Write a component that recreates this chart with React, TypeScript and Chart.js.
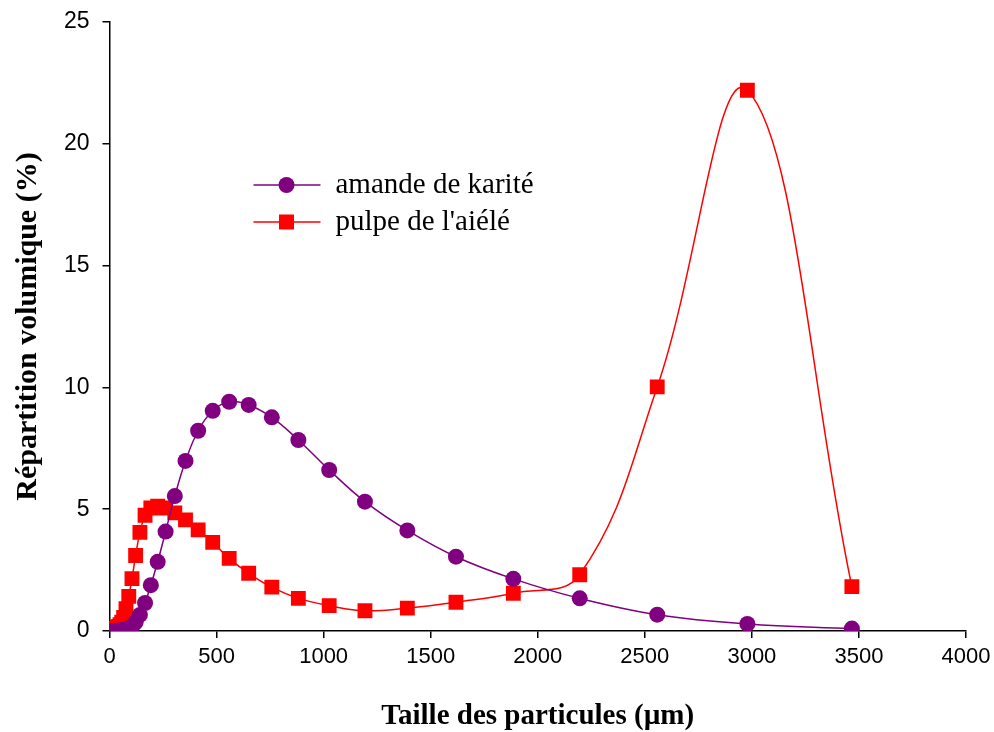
import React, { useEffect, useRef } from "react";
import { Chart, registerables } from "chart.js";

Chart.register(...registerables);

// Particle sizes (µm)
const sizes = [2, 4, 6, 9, 12, 16, 19, 22, 26, 31, 36, 42, 49, 57, 66, 77, 90, 105, 122, 142, 166, 193, 225, 262, 305, 355, 414, 482, 559, 650, 758, 882, 1026, 1193, 1391, 1618, 1886, 2196, 2558, 2979, 3467];

// amande de karité (%)
const karite = [0, 0, 0, 0, 0, 0, 0, 0, 0, 0.01, 0.01, 0.01, 0.02, 0.03, 0.04, 0.06, 0.1, 0.18, 0.36, 0.66, 1.15, 1.88, 2.84, 4.08, 5.54, 6.98, 8.22, 9.04, 9.41, 9.28, 8.77, 7.84, 6.61, 5.31, 4.13, 3.05, 2.14, 1.34, 0.67, 0.29, 0.1];

// pulpe de l'aiélé (%)
const aiele = [0.03, 0.04, 0.05, 0.05, 0.06, 0.07, 0.08, 0.09, 0.1, 0.12, 0.15, 0.19, 0.26, 0.36, 0.56, 0.92, 1.42, 2.15, 3.1, 4.05, 4.75, 5.05, 5.12, 5.05, 4.85, 4.56, 4.15, 3.64, 2.98, 2.37, 1.8, 1.34, 1.04, 0.83, 0.94, 1.18, 1.55, 2.31, 10.02, 22.2, 1.82];

const seriesLabels = ["amande de karité", "pulpe de l'aiélé"];
const seriesColors = ["#800080", "#FF0000"];
const xTicks = [0, 500, 1000, 1500, 2000, 2500, 3000, 3500, 4000];
const yTicks = [0, 5, 10, 15, 20, 25];
const xTitle = "Taille des particules (µm)";
const yTitle = "Répartition volumique (%)";

const legendPlugin = {
  id: "customLegend",
  afterDraw(chart: any) {
    const ctx = chart.ctx;
    const area = chart.chartArea;
    const baseX = area.left + 144;
    const baseY = area.top + 163;
    ctx.save();
    chart.data.datasets.forEach((ds: any, i: number) => {
      const y = baseY + i * 37;
      ctx.strokeStyle = ds.borderColor;
      ctx.lineWidth = 1.5;
      ctx.beginPath();
      ctx.moveTo(baseX, y);
      ctx.lineTo(baseX + 67, y);
      ctx.stroke();
      ctx.fillStyle = ds.backgroundColor;
      const cx = baseX + 33;
      if (ds.pointStyle === "circle") {
        ctx.beginPath();
        ctx.arc(cx, y, 8, 0, Math.PI * 2);
        ctx.fill();
      } else {
        ctx.fillRect(cx - 7.5, y - 7.5, 15, 15);
      }
      ctx.fillStyle = "#000";
      ctx.font = "29px 'Liberation Serif', 'Times New Roman', serif";
      ctx.textBaseline = "middle";
      ctx.textAlign = "left";
      ctx.fillText(ds.label, baseX + 82, y);
    });
    ctx.restore();
  },
};

export default function App() {
  const canvasRef = useRef<HTMLCanvasElement | null>(null);

  useEffect(() => {
    document.body.style.margin = "0";
    const canvas = canvasRef.current;
    if (!canvas) return;
    const makeData = (ys: number[]) => sizes.map((x, i) => ({ x, y: ys[i] }));
    const chart = new Chart(canvas, {
      type: "line",
      data: {
        datasets: [
          {
            label: seriesLabels[0],
            data: makeData(karite),
            borderColor: seriesColors[0],
            backgroundColor: seriesColors[0],
            borderWidth: 1.5,
            pointStyle: "circle",
            pointRadius: 8,
            pointBorderWidth: 0,
            tension: 0.4,
          },
          {
            label: seriesLabels[1],
            data: makeData(aiele),
            borderColor: seriesColors[1],
            backgroundColor: seriesColors[1],
            borderWidth: 1.5,
            pointStyle: "rect",
            pointRadius: 10.5,
            pointBorderWidth: 0,
            tension: 0.4,
          },
        ],
      },
      options: {
        responsive: false,
        animation: false,
        layout: { padding: { left: 0, right: 28, top: 22, bottom: 0 } },
        plugins: { legend: { display: false }, tooltip: { enabled: false } },
        scales: {
          x: {
            type: "linear",
            min: 0,
            max: 4000,
            afterFit: (s: any) => {
              s.height = 101;
              s.paddingLeft = 0;
              s.paddingRight = 0;
            },
            afterBuildTicks: (s: any) => {
              s.ticks = xTicks.map((v) => ({ value: v }));
            },
            ticks: {
              color: "#000",
              padding: 6,
              maxRotation: 0,
              callback: (v: any) => String(v),
              font: { family: "'Liberation Sans', Arial, sans-serif", size: 22 },
            },
            grid: { drawOnChartArea: false, drawTicks: true, tickLength: 7, color: "#000", lineWidth: 1.5 },
            border: { color: "#000", width: 1.5 },
            title: {
              display: true,
              text: xTitle,
              color: "#000",
              padding: { top: 0, bottom: 0 },
              font: { family: "'Liberation Serif', 'Times New Roman', serif", size: 29, weight: "bold", lineHeight: 1.1 },
            },
          },
          y: {
            type: "linear",
            min: 0,
            max: 25,
            afterFit: (s: any) => {
              s.width = 109.5;
              s.paddingTop = 0;
              s.paddingBottom = 0;
            },
            afterBuildTicks: (s: any) => {
              s.ticks = yTicks.map((v) => ({ value: v }));
            },
            ticks: {
              color: "#000",
              padding: 13,
              callback: (v: any) => String(v),
              font: { family: "'Liberation Sans', Arial, sans-serif", size: 23 },
            },
            grid: { drawOnChartArea: false, drawTicks: true, tickLength: 7, color: "#000", lineWidth: 1.5 },
            border: { color: "#000", width: 1.5 },
            title: {
              display: true,
              text: yTitle,
              color: "#000",
              padding: { top: 10, bottom: 0 },
              font: { family: "'Liberation Serif', 'Times New Roman', serif", size: 30, weight: "bold", lineHeight: 1.2 },
            },
          },
        },
      },
      plugins: [legendPlugin],
    });
    return () => chart.destroy();
  }, []);

  return (
    <div style={{ width: 994, height: 732, background: "#fff" }}>
      <canvas ref={canvasRef} width={994} height={732} style={{ display: "block" }} />
    </div>
  );
}
